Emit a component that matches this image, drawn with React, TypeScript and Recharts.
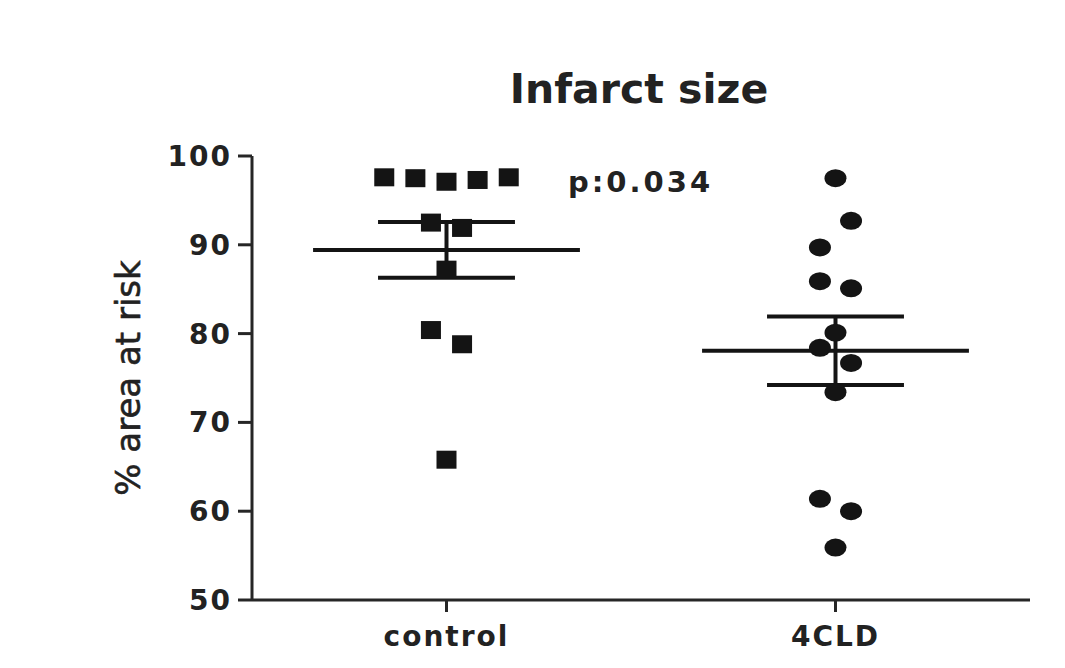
import { ScatterChart, Scatter, XAxis, YAxis, ReferenceLine, Label } from 'recharts'

// groups and tick values
const groups = ['control', '4CLD']
const yTicks = [50, 60, 70, 80, 90, 100]

// % area at risk
const controlValues = [97.6, 97.5, 97.1, 97.3, 97.6, 92.5, 91.9, 87.2, 80.4, 78.8, 65.8]
const controlJitter = [-0.16, -0.08, 0, 0.08, 0.16, -0.04, 0.04, 0, -0.04, 0.04, 0]

const cldValues = [97.5, 92.7, 89.7, 85.9, 85.1, 80.1, 78.4, 76.7, 73.4, 61.4, 60.0, 55.9]
const cldJitter = [0, 0.04, -0.04, -0.04, 0.04, 0, -0.04, 0.04, 0, -0.04, 0.04, 0]

const INK = '#141414'
const AXIS = '#262626'
const FONT = '"DejaVu Sans", sans-serif'

const mean = (v: number[]) => v.reduce((a, b) => a + b, 0) / v.length
const sem = (v: number[]) => {
  const m = mean(v)
  const sd = Math.sqrt(v.reduce((a, b) => a + (b - m) * (b - m), 0) / (v.length - 1))
  return sd / Math.sqrt(v.length)
}

const controlData = controlValues.map((y, i) => ({ x: 1 + controlJitter[i], y }))
const cldData = cldValues.map((y, i) => ({ x: 2 + cldJitter[i], y }))

const stats = [controlValues, cldValues].map((v, i) => ({ pos: i + 1, m: mean(v), s: sem(v) }))

const SquareDot = (p: any) => <rect x={p.cx - 10} y={p.cy - 9} width={20} height={18} fill={INK} />
const RoundDot = (p: any) => <ellipse cx={p.cx} cy={p.cy} rx={11} ry={9} fill={INK} />

export default function App() {
  const W = 1050
  const H = 650
  return (
    <div style={{ position: 'relative', width: W, height: H, background: '#fff' }}>
      <ScatterChart width={W} height={H} margin={{ top: 148, right: 28, bottom: 4, left: 0 }}>
        <XAxis
          type="number"
          dataKey="x"
          domain={[0.5, 2.5]}
          ticks={[1, 2]}
          tickFormatter={(v) => groups[v - 1]}
          height={54}
          tickSize={12}
          tickMargin={14}
          axisLine={{ stroke: AXIS, strokeWidth: 3 }}
          tickLine={{ stroke: AXIS, strokeWidth: 3 }}
          tick={{ fill: '#222', fontFamily: FONT, fontWeight: 'bold', fontSize: 28, letterSpacing: 2 }}
        />
        <YAxis
          type="number"
          dataKey="y"
          domain={[50, 100]}
          ticks={yTicks}
          width={244}
          tickSize={14}
          tickMargin={6}
          axisLine={{ stroke: AXIS, strokeWidth: 3 }}
          tickLine={{ stroke: AXIS, strokeWidth: 3 }}
          tick={{ fill: '#222', fontFamily: FONT, fontWeight: 'bold', fontSize: 28, letterSpacing: 2 }}
        >
          <Label
            content={({ viewBox }: any) => {
              const cx = viewBox.x + 120
              const cy = viewBox.y + viewBox.height / 2
              return (
                <text
                  x={cx}
                  y={cy}
                  transform={`rotate(-90 ${cx} ${cy})`}
                  textAnchor="middle"
                  dominantBaseline="central"
                  fontFamily={FONT}
                  fontSize={34}
                  fill="#222"
                  stroke="#222"
                  strokeWidth={0.6}
                >
                  % area at risk
                </text>
              )
            }}
          />
        </YAxis>

        {stats.map((st) => (
          <ReferenceLine
            key={`mean-${st.pos}`}
            segment={[{ x: st.pos - 0.343, y: st.m }, { x: st.pos + 0.343, y: st.m }]}
            stroke={INK}
            strokeWidth={4}
          />
        ))}
        {stats.map((st) => (
          <ReferenceLine
            key={`hi-${st.pos}`}
            segment={[{ x: st.pos - 0.176, y: st.m + st.s }, { x: st.pos + 0.176, y: st.m + st.s }]}
            stroke={INK}
            strokeWidth={4}
          />
        ))}
        {stats.map((st) => (
          <ReferenceLine
            key={`lo-${st.pos}`}
            segment={[{ x: st.pos - 0.176, y: st.m - st.s }, { x: st.pos + 0.176, y: st.m - st.s }]}
            stroke={INK}
            strokeWidth={4}
          />
        ))}
        {stats.map((st) => (
          <ReferenceLine
            key={`v-${st.pos}`}
            segment={[{ x: st.pos, y: st.m - st.s }, { x: st.pos, y: st.m + st.s }]}
            stroke={INK}
            strokeWidth={4}
          />
        ))}

        <Scatter data={controlData} shape={SquareDot} isAnimationActive={false} />
        <Scatter data={cldData} shape={RoundDot} isAnimationActive={false} />
      </ScatterChart>

      <svg width={W} height={H} style={{ position: 'absolute', left: 0, top: 0, pointerEvents: 'none' }}>
        <text x={631} y={95} textAnchor="middle" fontFamily={FONT} fontWeight="bold" fontSize={41} fill="#222">
          Infarct size
        </text>
        <text x={560} y={184} fontFamily={FONT} fontWeight="bold" fontSize={29} letterSpacing={3} fill="#222">
          p:0.034
        </text>
      </svg>
    </div>
  )
}
